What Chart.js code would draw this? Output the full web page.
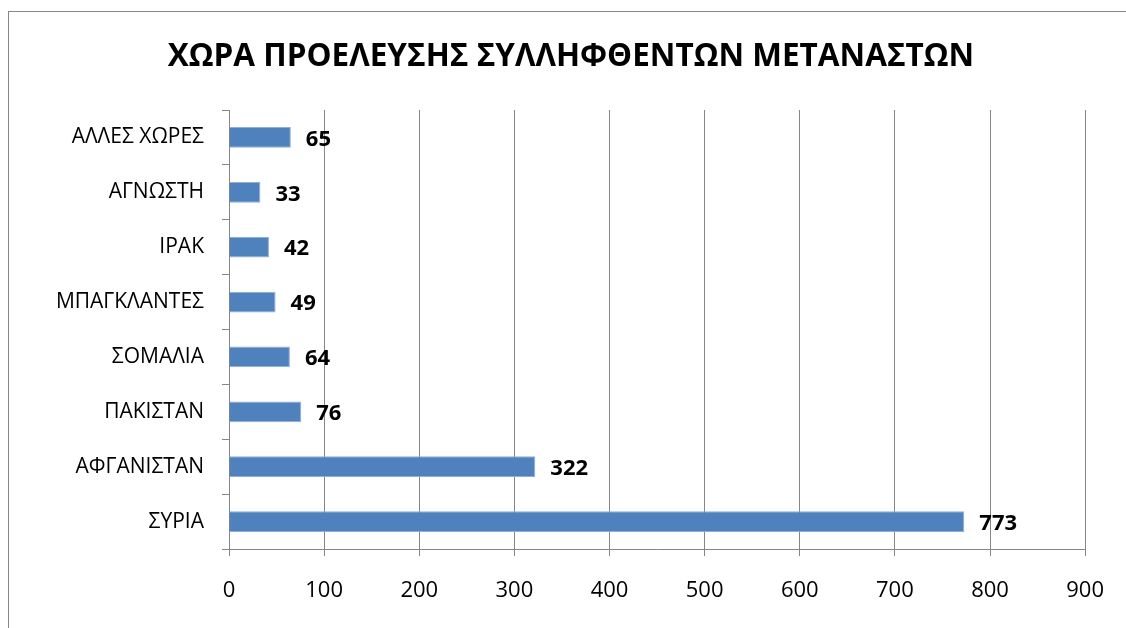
<!DOCTYPE html>
<html>
<head>
<meta charset="utf-8">
<script src="https://cdn.jsdelivr.net/npm/chart.js@4"></script>
<style>
html,body{margin:0;padding:0;background:#fff;overflow:hidden;}
#wrap{position:relative;width:1126px;height:628px;}
#frame{position:absolute;left:8px;top:11px;width:1140px;height:640px;border:1px solid #868686;box-sizing:border-box;}
canvas{position:absolute;left:0;top:0;}
</style>
</head>
<body>
<div id="wrap">
<div id="frame"></div>
<canvas id="c" width="1126" height="628"></canvas>
</div>
<script>
const titleText = "ΧΩΡΑ ΠΡΟΕΛΕΥΣΗΣ ΣΥΛΛΗΦΘΕΝΤΩΝ ΜΕΤΑΝΑΣΤΩΝ";
const categories = ["ΑΛΛΕΣ ΧΩΡΕΣ","ΑΓΝΩΣΤΗ","ΙΡΑΚ","ΜΠΑΓΚΛΑΝΤΕΣ","ΣΟΜΑΛΙΑ","ΠΑΚΙΣΤΑΝ","ΑΦΓΑΝΙΣΤΑΝ","ΣΥΡΙΑ"];
const values = [65,33,42,49,64,76,322,773];
const xTicks = [0,100,200,300,400,500,600,700,800,900];

const FONT = "'Open Sans', 'Noto Sans', sans-serif";

const valueLabels = {
  id: 'valueLabels',
  afterDatasetsDraw(chart) {
    const ctx = chart.ctx;
    const meta = chart.getDatasetMeta(0);
    ctx.save();
    ctx.font = "bold 22px " + FONT;
    ctx.fillStyle = "#000";
    ctx.textAlign = "left";
    ctx.textBaseline = "middle";
    meta.data.forEach((bar, i) => {
      ctx.fillText(String(values[i]), bar.x + 15, bar.y + 2);
    });
    ctx.restore();
  }
};

const chartTitle = {
  id: 'chartTitle',
  afterDraw(chart) {
    const ctx = chart.ctx;
    ctx.save();
    ctx.font = "bold 31.5px " + FONT;
    ctx.fillStyle = "#000";
    ctx.textAlign = "center";
    ctx.textBaseline = "middle";
    ctx.fillText(titleText, 571, 57);
    ctx.restore();
  }
};

new Chart(document.getElementById('c'), {
  type: 'bar',
  data: {
    labels: categories,
    datasets: [{
      data: values,
      backgroundColor: '#4F81BD',
      borderColor: '#8DAEDB',
      borderWidth: 1,
      categoryPercentage: 0.4,
      barPercentage: 0.95
    }]
  },
  options: {
    indexAxis: 'y',
    responsive: false,
    animation: false,
    devicePixelRatio: 1,
    layout: { padding: { left: 0, right: 33, top: 110, bottom: 0 } },
    plugins: {
      legend: { display: false },
      tooltip: { enabled: false },
      title: { display: false }
    },
    scales: {
      x: {
        min: 0, max: 900,
        afterBuildTicks(scale) { scale.ticks = xTicks.map(v => ({ value: v })); },
        afterFit(scale) { scale.height = 628 - 549; },
        grid: { color: '#868686', lineWidth: 1, tickLength: 7, drawTicks: true, tickColor: '#868686' },
        border: { color: '#868686', width: 1 },
        ticks: { color: '#000', font: { family: FONT, size: 22 }, padding: 22 }
      },
      y: {
        afterFit(scale) { scale.width = 229; },
        grid: { display: true, drawOnChartArea: false, drawTicks: true, tickLength: 7, color: '#868686', offset: true },
        border: { color: '#868686', width: 1 },
        ticks: { color: '#000', font: { family: FONT, size: 21 }, padding: 18 }
      }
    }
  },
  plugins: [valueLabels, chartTitle]
});
</script>
</body>
</html>
